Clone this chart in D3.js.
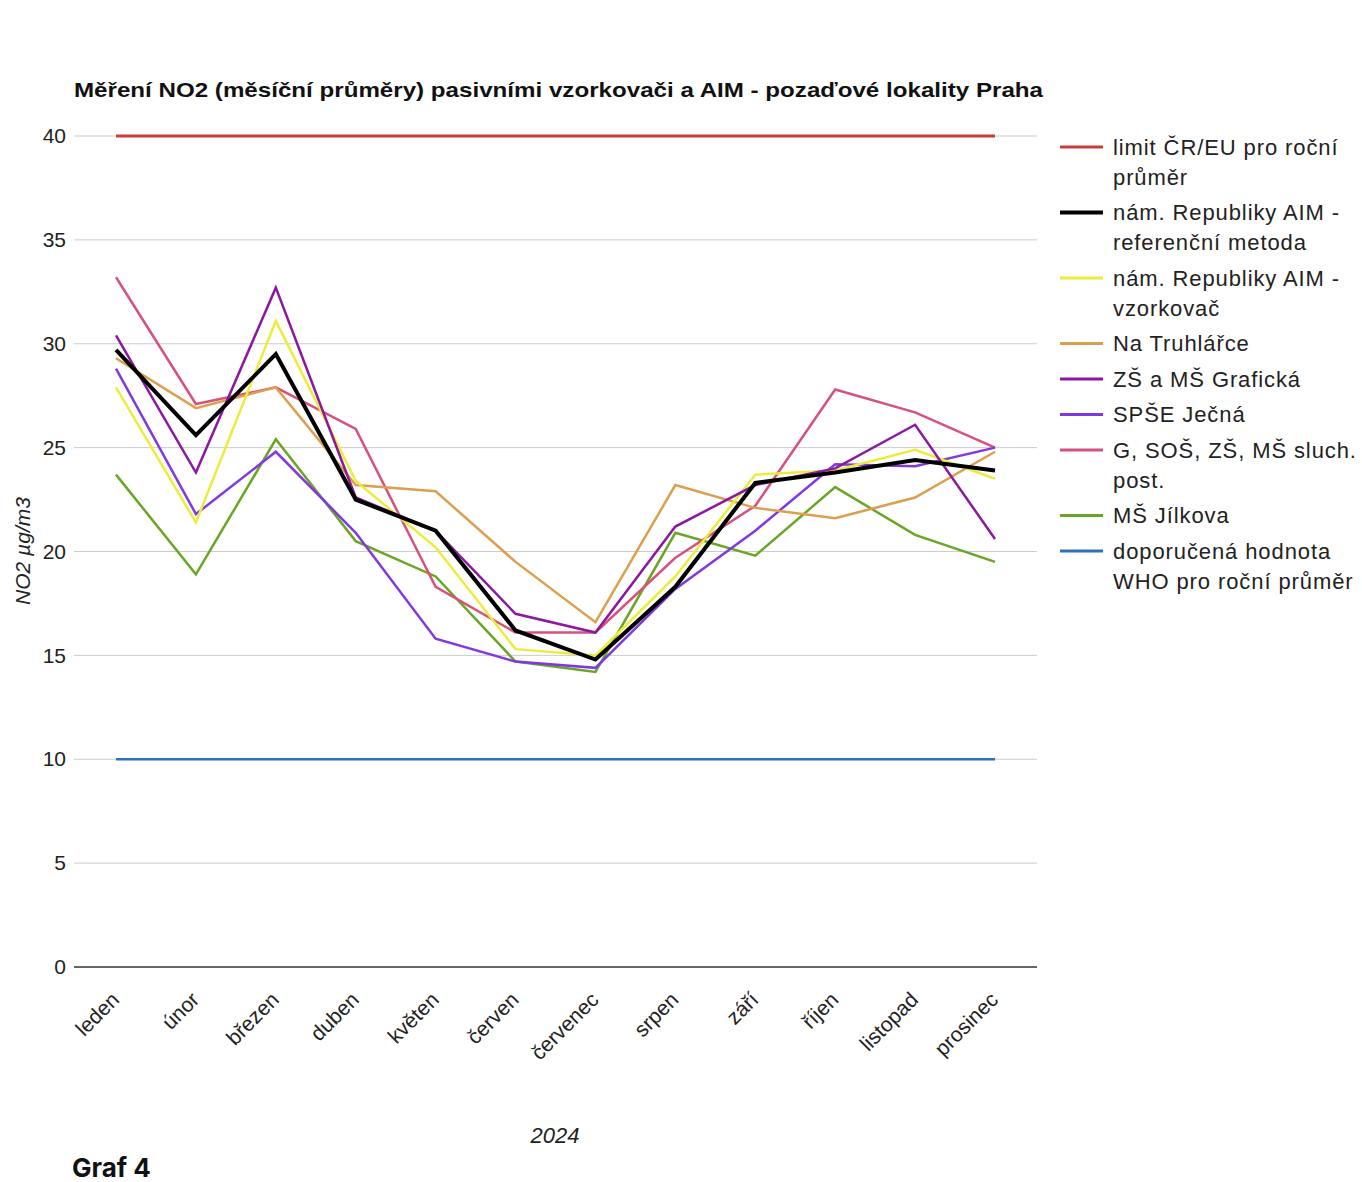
<!DOCTYPE html>
<html>
<head>
<meta charset="utf-8">
<script src="https://cdn.jsdelivr.net/npm/d3@7"></script>
<style>
  html, body { margin: 0; padding: 0; background: #fff; }
  svg { display: block; }
</style>
</head>
<body>
<svg id="chart" width="1362" height="1182"></svg>
<script>
// Months of 2024
const months = ["leden", "únor", "březen", "duben", "květen", "červen",
                "červenec", "srpen", "září", "říjen", "listopad", "prosinec"];

// Monthly NO2 averages, µg/m3
const limitEU      = [40, 40, 40, 40, 40, 40, 40, 40, 40, 40, 40, 40];
const aimReference = [29.7, 25.6, 29.5, 22.5, 21.0, 16.2, 14.8, 18.3, 23.3, 23.8, 24.4, 23.9];
const aimSampler   = [27.9, 21.4, 31.1, 23.4, 20.2, 15.3, 15.0, 18.8, 23.7, 23.9, 24.9, 23.5];
const naTruhlarce  = [29.3, 26.9, 27.9, 23.2, 22.9, 19.5, 16.6, 23.2, 22.1, 21.6, 22.6, 24.8];
const graficka     = [30.4, 23.8, 32.7, 22.6, 21.0, 17.0, 16.1, 21.2, 23.2, 24.0, 26.1, 20.6];
const jecna        = [28.8, 21.8, 24.8, 20.9, 15.8, 14.7, 14.4, 18.2, 21.0, 24.2, 24.1, 25.0];
const sluchPost    = [33.2, 27.1, 27.9, 25.9, 18.3, 16.1, 16.1, 19.7, 22.2, 27.8, 26.7, 25.0];
const jilkova      = [23.7, 18.9, 25.4, 20.5, 18.8, 14.7, 14.2, 20.9, 19.8, 23.1, 20.8, 19.5];
const whoGuideline = [10, 10, 10, 10, 10, 10, 10, 10, 10, 10, 10, 10];

const yTicks = [0, 5, 10, 15, 20, 25, 30, 35, 40];

// Series in legend order (labels may wrap onto two lines)
const series = [
  { label: ["limit ČR/EU pro roční", "průměr"], values: limitEU, color: "#cc3a36", width: 3 },
  { label: ["nám. Republiky AIM -", "referenční metoda"], values: aimReference, color: "#000000", width: 4 },
  { label: ["nám. Republiky AIM -", "vzorkovač"], values: aimSampler, color: "#ecec3c", width: 2.5 },
  { label: ["Na Truhlářce"], values: naTruhlarce, color: "#dc9f4e", width: 2.5 },
  { label: ["ZŠ a MŠ Grafická"], values: graficka, color: "#8c17a0", width: 2.5 },
  { label: ["SPŠE Ječná"], values: jecna, color: "#8238e0", width: 2.5 },
  { label: ["G, SOŠ, ZŠ, MŠ sluch.", "post."], values: sluchPost, color: "#d6527c", width: 2.5 },
  { label: ["MŠ Jílkova"], values: jilkova, color: "#69a625", width: 2.5 },
  { label: ["doporučená hodnota", "WHO pro roční průměr"], values: whoGuideline, color: "#2e72b4", width: 2.5 }
];

const svg = d3.select("#chart");
const plot = { left: 74, right: 1037, top: 136, bottom: 967 };

const x = d3.scalePoint().domain(months).range([116, 995]);
const y = d3.scaleLinear().domain([0, 40]).range([plot.bottom, plot.top]);

const sans = "'Liberation Sans', Arial, sans-serif";

// Title
svg.append("text")
  .attr("x", 74).attr("y", 97)
  .attr("font-family", sans)
  .attr("font-weight", "bold")
  .attr("font-size", 21)
  .attr("textLength", 969)
  .attr("lengthAdjust", "spacingAndGlyphs")
  .attr("fill", "#111")
  .text("Měření NO2 (měsíční průměry) pasivními vzorkovači a AIM - pozaďové lokality Praha");

// Horizontal gridlines
svg.append("g")
  .selectAll("line")
  .data(yTicks.filter(d => d !== 0))
  .join("line")
  .attr("x1", plot.left).attr("x2", plot.right)
  .attr("y1", d => y(d)).attr("y2", d => y(d))
  .attr("stroke", "#cccccc").attr("stroke-width", 1);

// Y axis labels
const yAxis = d3.axisLeft(y).tickValues(yTicks).tickSize(0).tickPadding(8);
const gy = svg.append("g").attr("transform", `translate(${plot.left},0)`).call(yAxis);
gy.select(".domain").remove();
gy.selectAll("text")
  .attr("font-family", sans)
  .attr("font-size", 21)
  .attr("fill", "#222");

// Baseline at zero
svg.append("line")
  .attr("x1", plot.left).attr("x2", plot.right)
  .attr("y1", y(0)).attr("y2", y(0))
  .attr("stroke", "#333").attr("stroke-width", 1.5);

// X axis labels, rotated
const xAxis = d3.axisBottom(x).tickSize(0).tickPadding(0);
const gx = svg.append("g").attr("transform", `translate(0,${plot.bottom})`).call(xAxis);
gx.select(".domain").remove();
gx.selectAll("text")
  .attr("font-family", sans)
  .attr("font-size", 21)
  .attr("fill", "#222")
  .attr("text-anchor", "end")
  .attr("dy", 0)
  .attr("transform", "translate(4,34) rotate(-45)");

// Axis titles
svg.append("text")
  .attr("transform", `translate(30,551) rotate(-90)`)
  .attr("text-anchor", "middle")
  .attr("font-family", sans)
  .attr("font-style", "italic")
  .attr("font-size", 21)
  .attr("fill", "#222")
  .text("NO2 µg/m3");

svg.append("text")
  .attr("x", 555).attr("y", 1143)
  .attr("text-anchor", "middle")
  .attr("font-family", sans)
  .attr("font-style", "italic")
  .attr("font-size", 22)
  .attr("fill", "#222")
  .text("2024");

// Series lines (reference line on top of the passive samplers)
const line = d3.line().x((d, i) => x(months[i])).y(d => y(d));
const drawOrder = [0, 8, 7, 6, 5, 3, 2, 4, 1];
svg.append("g")
  .selectAll("path")
  .data(drawOrder.map(i => series[i]))
  .join("path")
  .attr("d", d => line(d.values))
  .attr("fill", "none")
  .attr("stroke", d => d.color)
  .attr("stroke-width", d => d.width)
  .attr("stroke-linejoin", "miter");

// Legend
const legend = svg.append("g")
  .attr("font-family", sans)
  .attr("font-size", 22)
  .attr("letter-spacing", "0.9px")
  .attr("fill", "#222");
let ly = 147;
series.forEach(s => {
  const g = legend.append("g");
  g.append("line")
    .attr("x1", 1060).attr("x2", 1103)
    .attr("y1", ly).attr("y2", ly)
    .attr("stroke", s.color)
    .attr("stroke-width", s.width === 4 ? 4 : 3);
  s.label.forEach((t, k) => {
    g.append("text")
      .attr("x", 1113).attr("y", ly + k * 30)
      .attr("dy", "0.35em")
      .text(t);
  });
  ly += (s.label.length - 1) * 30 + 35.5;
});

// Figure caption
svg.append("text")
  .attr("x", 72).attr("y", 1177)
  .attr("font-family", "Inter, sans-serif")
  .attr("font-weight", "bold")
  .attr("font-size", 26)
  .attr("fill", "#111")
  .text("Graf 4");
</script>
</body>
</html>
